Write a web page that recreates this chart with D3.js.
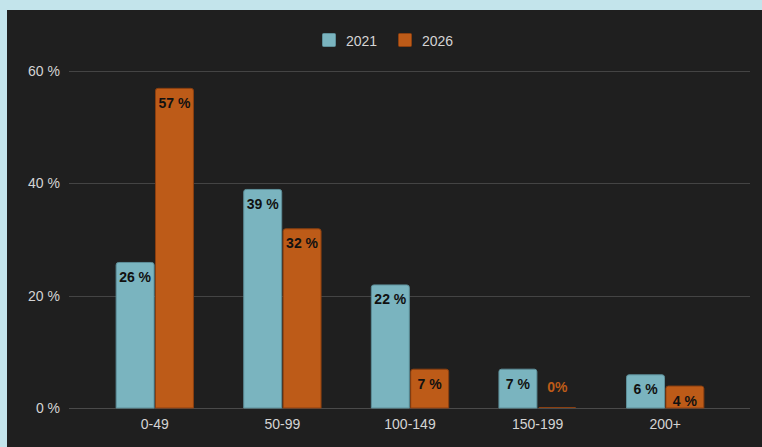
<!DOCTYPE html>
<html><head><meta charset="utf-8">
<script src="https://cdn.jsdelivr.net/npm/d3@7"></script>
<style>
html,body{margin:0;padding:0;background:#c3e4eb;}
svg{display:block;}
</style></head>
<body>
<svg id="chart" width="762" height="447"></svg>
<script>
const categories = ["0-49","50-99","100-149","150-199","200+"];
const seriesNames = ["2021","2026"];
const values2021 = [26,39,22,7,6];
const values2026 = [57,32,7,0,4];
const yTicks = [0,20,40,60];
const colors = ["#7ab4bf","#bd5b18"];
const strokes = ["#5d8f99","#8a3f10"];
const FONT = "Arial, Liberation Sans, sans-serif";

const svg = d3.select("#chart");
const W=762,H=447;
svg.append("rect").attr("x",7).attr("y",10).attr("width",W-7).attr("height",H-10).attr("fill","#1f1f1f");

const gridL=69, gridR=750;
const x = d3.scaleBand().domain(categories).range([91,729]).paddingInner(0.38).paddingOuter(0.19);
const x1 = d3.scaleBand().domain(seriesNames).range([0,x.bandwidth()]).padding(0.01);
const y = d3.scaleLinear().domain([0,60]).range([408,71]);

// grid
svg.append("g").selectAll("line").data(yTicks).join("line")
  .attr("x1",gridL).attr("x2",gridR)
  .attr("y1",d=>Math.round(y(d))+0.5).attr("y2",d=>Math.round(y(d))+0.5)
  .attr("stroke",d=>d===0?"#4a4a4a":"#444").attr("stroke-width",1);
svg.append("g").selectAll("text").data(yTicks).join("text")
  .attr("x",60).attr("y",d=>y(d)+5).attr("text-anchor","end")
  .attr("font-family",FONT).attr("font-size",14).attr("fill","#d4d4d4")
  .text(d=>d+" %");

// x labels
svg.append("g").selectAll("text").data(categories).join("text")
  .attr("x",d=>x(d)+x.bandwidth()/2).attr("y",429).attr("text-anchor","middle")
  .attr("font-family",FONT).attr("font-size",14).attr("fill","#d4d4d4")
  .text(d=>d);

const data = categories.map((c,i)=>({c, vals:[values2021[i],values2026[i]]}));
const groups = svg.append("g").selectAll("g").data(data).join("g")
  .attr("transform",d=>`translate(${x(d.c)},0)`);

function barPath(x0,w,yTop,yBot,r){
  const h=yBot-yTop; r=Math.min(r,h,w/2);
  return `M${x0},${yBot}V${yTop+r}Q${x0},${yTop} ${x0+r},${yTop}H${x0+w-r}Q${x0+w},${yTop} ${x0+w},${yTop+r}V${yBot}Z`;
}
groups.each(function(d){
  const g=d3.select(this);
  d.vals.forEach((v,si)=>{
    const bx=x1(seriesNames[si]), bw=x1.bandwidth();
    const top=y(v), bot=y(0);
    if(v>0){
      g.append("path").attr("d",barPath(bx+0.5,bw-1,top+0.5,bot,2.5))
        .attr("fill",colors[si]).attr("stroke",strokes[si]).attr("stroke-width",1);
      g.append("text").attr("x",bx+bw/2).attr("y",top+20).attr("text-anchor","middle")
        .attr("font-family",FONT).attr("font-weight","bold")
        .attr("font-size",14).attr("fill","#111").text(v+" %");
    } else {
      g.append("line").attr("x1",bx+1).attr("x2",bx+bw-1).attr("y1",bot-0.5).attr("y2",bot-0.5)
        .attr("stroke",strokes[si]).attr("stroke-width",1);
      g.append("text").attr("x",bx+bw/2).attr("y",bot-16).attr("text-anchor","middle")
        .attr("font-family",FONT).attr("font-weight","bold")
        .attr("font-size",14).attr("fill",colors[si]).text(v+"%");
    }
  });
});

// legend
const legX=[322,398];
seriesNames.forEach((s,i)=>{
  svg.append("rect").attr("x",legX[i]+0.5).attr("y",33.5).attr("width",13).attr("height",13).attr("rx",1)
    .attr("fill",colors[i]).attr("stroke",strokes[i]).attr("stroke-width",1);
  svg.append("text").attr("x",legX[i]+24).attr("y",45.5)
    .attr("font-family",FONT).attr("font-size",14).attr("fill","#d4d4d4").text(s);
});
</script>
</body></html>
